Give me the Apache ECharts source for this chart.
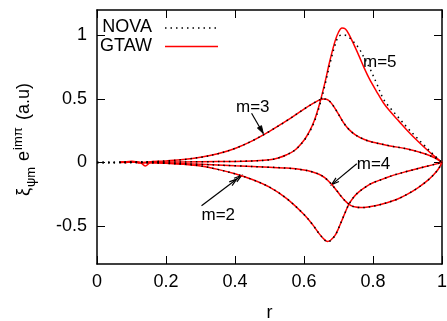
<!DOCTYPE html>
<html><head><meta charset="utf-8">
<script src="https://cdn.jsdelivr.net/npm/echarts@6/dist/echarts.min.js"></script>
<style>html,body{margin:0;padding:0;background:#fff}#c{width:447px;height:321px}</style>
</head><body><div id="c"></div><script>
// ---- data ----
const xTicks = [0, 0.2, 0.4, 0.6, 0.8, 1];
const yTicks = [-0.5, 0, 0.5, 1];
const seriesNames = ['NOVA', 'GTAW'];

// GTAW (red solid)
const m2_gtaw = [[0.067,0],[0.1,0.008],[0.125,0],[0.14,-0.028],[0.155,-0.003],[0.2,-0.007],[0.25,-0.014],[0.3,-0.028],[0.35,-0.055],[0.4,-0.09],[0.45,-0.135],[0.5,-0.195],[0.55,-0.285],[0.6,-0.41],[0.625,-0.49],[0.645,-0.565],[0.66,-0.61],[0.668,-0.622],[0.677,-0.613],[0.69,-0.575],[0.7,-0.52],[0.71,-0.455],[0.72,-0.39],[0.73,-0.33],[0.745,-0.27],[0.76,-0.23],[0.78,-0.19],[0.8,-0.16],[0.83,-0.13],[0.86,-0.1],[0.9,-0.07],[0.95,-0.035],[1.0,0]];
const m3_gtaw = [[0.067,0.003],[0.1,0.008],[0.12,-0.004],[0.15,0.004],[0.2,0.012],[0.25,0.022],[0.3,0.04],[0.35,0.068],[0.4,0.11],[0.45,0.17],[0.5,0.245],[0.55,0.328],[0.6,0.42],[0.63,0.47],[0.645,0.492],[0.656,0.5],[0.665,0.497],[0.675,0.48],[0.685,0.445],[0.7,0.38],[0.714,0.315],[0.73,0.26],[0.75,0.215],[0.775,0.18],[0.8,0.158],[0.85,0.13],[0.9,0.105],[0.95,0.068],[0.98,0.035],[1.0,0]];
const m4_gtaw = [[0.08,-0.004],[0.105,0.007],[0.13,-0.004],[0.15,0],[0.2,-0.005],[0.3,-0.015],[0.4,-0.027],[0.5,-0.038],[0.55,-0.045],[0.6,-0.06],[0.625,-0.075],[0.645,-0.095],[0.66,-0.12],[0.675,-0.158],[0.69,-0.205],[0.705,-0.258],[0.72,-0.305],[0.735,-0.338],[0.75,-0.352],[0.765,-0.356],[0.785,-0.352],[0.81,-0.34],[0.84,-0.318],[0.87,-0.29],[0.9,-0.25],[0.93,-0.2],[0.955,-0.15],[0.975,-0.1],[0.99,-0.05],[1.0,0]];
const m5_gtaw = [[0.067,0],[0.1,0.004],[0.13,0],[0.2,0.003],[0.3,0.005],[0.4,0.008],[0.45,0.012],[0.5,0.02],[0.525,0.035],[0.55,0.06],[0.575,0.1],[0.6,0.175],[0.615,0.24],[0.63,0.33],[0.645,0.46],[0.66,0.62],[0.675,0.8],[0.69,0.955],[0.7,1.025],[0.71,1.058],[0.72,1.05],[0.73,1.01],[0.745,0.925],[0.76,0.835],[0.775,0.74],[0.79,0.655],[0.81,0.56],[0.83,0.47],[0.85,0.4],[0.875,0.325],[0.9,0.25],[0.925,0.18],[0.95,0.115],[0.975,0.055],[1.0,0]];

// NOVA (black dotted)
const m2_nova = [[0,0],[0.05,0],[0.1,0],[0.15,-0.003],[0.2,-0.007],[0.25,-0.014],[0.3,-0.028],[0.35,-0.055],[0.4,-0.09],[0.45,-0.135],[0.5,-0.195],[0.55,-0.285],[0.6,-0.41],[0.625,-0.49],[0.645,-0.565],[0.66,-0.612],[0.668,-0.626],[0.677,-0.616],[0.69,-0.575],[0.7,-0.52],[0.71,-0.455],[0.72,-0.39],[0.73,-0.33],[0.745,-0.27],[0.76,-0.23],[0.78,-0.19],[0.8,-0.16],[0.83,-0.13],[0.86,-0.1],[0.9,-0.07],[0.95,-0.035],[1.0,0]];
const m3_nova = [[0,0],[0.05,0],[0.1,0.003],[0.15,0.005],[0.2,0.012],[0.25,0.022],[0.3,0.04],[0.35,0.068],[0.4,0.11],[0.45,0.17],[0.5,0.245],[0.55,0.328],[0.6,0.42],[0.63,0.47],[0.645,0.492],[0.656,0.5],[0.665,0.497],[0.675,0.48],[0.685,0.445],[0.7,0.38],[0.714,0.315],[0.73,0.26],[0.75,0.215],[0.775,0.18],[0.8,0.158],[0.85,0.13],[0.9,0.105],[0.95,0.068],[0.98,0.035],[1.0,0]];
const m4_nova = [[0,0],[0.05,0],[0.1,0],[0.15,0],[0.2,-0.005],[0.3,-0.015],[0.4,-0.027],[0.5,-0.038],[0.55,-0.045],[0.6,-0.06],[0.625,-0.075],[0.645,-0.095],[0.66,-0.12],[0.675,-0.158],[0.69,-0.205],[0.705,-0.258],[0.72,-0.305],[0.735,-0.338],[0.75,-0.352],[0.765,-0.356],[0.785,-0.352],[0.81,-0.34],[0.84,-0.318],[0.87,-0.29],[0.9,-0.25],[0.93,-0.2],[0.955,-0.15],[0.975,-0.1],[0.99,-0.05],[1.0,0]];
const m5_nova = [[0,0],[0.05,0],[0.1,0.002],[0.2,0.003],[0.3,0.005],[0.4,0.008],[0.45,0.012],[0.5,0.02],[0.525,0.035],[0.55,0.06],[0.575,0.1],[0.6,0.172],[0.615,0.235],[0.63,0.32],[0.645,0.445],[0.66,0.6],[0.675,0.775],[0.69,0.925],[0.7,0.99],[0.712,1.005],[0.725,0.995],[0.74,0.96],[0.76,0.895],[0.775,0.82],[0.79,0.745],[0.81,0.625],[0.83,0.5],[0.85,0.428],[0.875,0.35],[0.9,0.272],[0.925,0.2],[0.95,0.13],[0.975,0.062],[1.0,0]];

// annotations (data coordinates)
const annotLabels = [
  {text:'m=5', at:[0.771, 0.79]},
  {text:'m=3', at:[0.403, 0.437]},
  {text:'m=4', at:[0.753, -0.014]},
  {text:'m=2', at:[0.303, -0.42]}
];
const annotArrows = [
  {from:[0.448, 0.387], to:[0.482, 0.228], head:'filled'},
  {from:[0.753, -0.01], to:[0.680, -0.175], head:'open'},
  {from:[0.303, -0.341], to:[0.419, -0.103], head:'double'}
];

// ---- chart ----
const FONT = 'Liberation Sans';
const chart = echarts.init(document.getElementById('c'), null, {renderer:'canvas'});
const axisCommon = {
  type:'value', min:0, max:1, interval:0.2,
  axisLine:{show:true, onZero:false, lineStyle:{color:'#000', width:1.5}},
  axisTick:{show:true, inside:true, length:8, lineStyle:{color:'#000', width:1}, customValues:xTicks},
  splitLine:{show:false}
};
const yCommon = {
  type:'value', min:-0.8, max:1.2,
  axisLine:{show:true, onZero:false, lineStyle:{color:'#000', width:1.5}},
  axisTick:{show:true, inside:true, length:8, lineStyle:{color:'#000', width:1}, customValues:yTicks},
  splitLine:{show:false}
};
function gtaw(d){return {type:'line', data:d, symbol:'none', smooth:0.35, z:2,
  lineStyle:{color:'#ff0000', width:1.5}, silent:true};}
function nova(d){return {type:'line', data:d, symbol:'none', smooth:0.35, z:3,
  lineStyle:{color:'#000', width:1.5, type:[1.5,4], cap:'butt'}, silent:true};}

const option = {
  animation:false,
  backgroundColor:'#fff',
  grid:{left:97, right:5, top:10, bottom:57, containLabel:false, outerBoundsMode:'none'},
  xAxis:[
    Object.assign({}, axisCommon, {position:'bottom',
      axisLabel:{show:true, customValues:xTicks, margin:9, color:'#000', fontSize:18, fontFamily:FONT},
      name:'r', nameLocation:'middle', nameGap:40, nameTextStyle:{color:'#000', fontSize:18, fontFamily:FONT}}),
    Object.assign({}, axisCommon, {position:'top', axisLabel:{show:false}})
  ],
  yAxis:[
    Object.assign({}, yCommon, {position:'left',
      axisLabel:{show:true, customValues:yTicks, margin:10, color:'#000', fontSize:18, fontFamily:FONT}}),
    Object.assign({}, yCommon, {position:'right', axisLabel:{show:false}})
  ],
  series:[
    gtaw(m2_gtaw), gtaw(m3_gtaw), gtaw(m4_gtaw), gtaw(m5_gtaw),
    nova(m2_nova), nova(m3_nova), nova(m4_nova), nova(m5_nova)
  ]
};
chart.setOption(option);

// ---- overlay graphics: legend, y-axis title, annotations ----
const px = p => chart.convertToPixel({gridIndex:0}, p);
const g = [];
g.push({type:'text', style:{text:seriesNames[0], x:152, y:27, textAlign:'right', textVerticalAlign:'middle', font:'18px '+FONT, fill:'#000'}});
g.push({type:'text', style:{text:seriesNames[1], x:152, y:46, textAlign:'right', textVerticalAlign:'middle', font:'18px '+FONT, fill:'#000'}});
g.push({type:'line', shape:{x1:165, y1:28, x2:218, y2:28}, style:{stroke:'#000', lineWidth:1.5, lineDash:[1.5,4]}});
g.push({type:'line', shape:{x1:165, y1:46.5, x2:218, y2:46.5}, style:{stroke:'#ff0000', lineWidth:1.5}});

// y-axis title: ξ_{ψm} e^{imπ} (a.u), rotated
const pieces = [
  {t:'ξ', fs:18, at:0, dy:0},
  {t:'ψm', fs:13, at:9, dy:5},
  {t:'e', fs:18, at:35, dy:0},
  {t:'imπ', fs:13, at:46, dy:-8},
  {t:'(a.u)', fs:18, at:76, dy:0}
];
const kids = pieces.map(p => ({type:'text', style:{text:p.t, x:p.at, y:p.dy, textVerticalAlign:'bottom', font:p.fs+'px '+FONT, fill:'#000'}}));
g.push({type:'group', x:33, y:196, rotation:Math.PI/2, children:kids});

annotLabels.forEach(a => {
  const p = px(a.at);
  g.push({type:'text', style:{text:a.text, x:p[0], y:p[1], textAlign:'left', textVerticalAlign:'middle', font:'17px '+FONT, fill:'#000'}});
});
function head(tip, ang, filled){
  const L = 8, w = 0.3;
  const a1 = [tip[0]-L*Math.cos(ang-w), tip[1]-L*Math.sin(ang-w)];
  const a2 = [tip[0]-L*Math.cos(ang+w), tip[1]-L*Math.sin(ang+w)];
  if (filled) return {type:'polygon', shape:{points:[a1, tip, a2]}, style:{fill:'#000', stroke:'#000', lineWidth:1}};
  return {type:'polyline', shape:{points:[a1, tip, a2]}, style:{stroke:'#000', lineWidth:1.2, fill:null}};
}
annotArrows.forEach(a => {
  const f = px(a.from), t = px(a.to);
  g.push({type:'line', shape:{x1:f[0], y1:f[1], x2:t[0], y2:t[1]}, style:{stroke:'#000', lineWidth:1.2}});
  const ang = Math.atan2(t[1]-f[1], t[0]-f[0]);
  g.push(head(t, ang, a.head==='filled'));
  if (a.head==='double') {
    const t2 = [t[0]-6*Math.cos(ang), t[1]-6*Math.sin(ang)];
    g.push(head(t2, ang, false));
  }
});
chart.setOption({graphic:g});
</script></body></html>
